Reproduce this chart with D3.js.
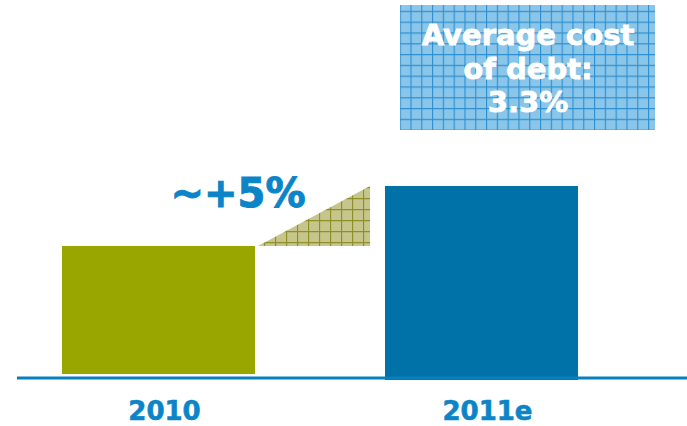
<!DOCTYPE html>
<html>
<head>
<meta charset="utf-8">
<script src="https://cdn.jsdelivr.net/npm/d3@7"></script>
<style>
  html, body { margin: 0; padding: 0; background: #fff; }
  svg { display: block; font-family: "DejaVu Sans", Verdana, sans-serif; font-weight: bold; }
</style>
</head>
<body>
<svg id="chart" width="687" height="426"></svg>
<script>
const categories = ['2010', '2011e']
const values = [100, 105]
const growthLabel = '~+5%'
const boxLines = ['Average cost', 'of debt:', '3.3%']

const svg = d3.select('#chart')
const defs = svg.append('defs')

// grid-hatched fills
function gridPattern (id, bg, line, size) {
  const p = defs.append('pattern')
    .attr('id', id)
    .attr('patternUnits', 'userSpaceOnUse')
    .attr('width', size)
    .attr('height', size)
  p.append('rect').attr('width', size).attr('height', size).attr('fill', bg)
  p.append('path')
    .attr('d', `M0,0.5H${size}M0.5,0V${size}`)
    .attr('stroke', line)
    .attr('stroke-width', 1.3)
}
gridPattern('olive-grid', '#c6c58c', '#8f8f2a', 11)
gridPattern('blue-grid', '#8ac6ea', '#2f90d0', 10.8)

const x = d3.scaleBand().domain(categories).range([62, 578]).paddingInner(0.4025)
const y = d3.scaleLinear().domain([89, 120.5]).range([378, 0])
const colors = { '2010': '#9aa600', '2011e': '#0072a7' }

// bars
svg.append('g').selectAll('rect')
  .data(categories)
  .join('rect')
  .attr('x', d => x(d))
  .attr('width', x.bandwidth())
  .attr('y', (d, i) => y(values[i]))
  .attr('height', (d, i) => y(89) - y(values[i]) + (i === 0 ? -4 : 2))
  .attr('fill', d => colors[d])

// baseline
svg.append('line')
  .attr('x1', 17).attr('x2', 687)
  .attr('y1', y(89)).attr('y2', y(89))
  .attr('stroke', '#0a7fbf')
  .attr('stroke-width', 3)

// growth wedge between bars
const x0 = x(categories[0]) + x.bandwidth() + 3
const x1 = x(categories[1]) - 15
svg.append('path')
  .attr('d', `M${x0},${y(values[0])}L${x1},${y(values[1])}L${x1},${y(values[0])}Z`)
  .attr('fill', 'url(#olive-grid)')

svg.append('text')
  .attr('x', 238)
  .attr('y', 207)
  .attr('text-anchor', 'middle')
  .attr('font-size', 40)
  .attr('fill', '#0b85c8')
  .attr('stroke', '#0b85c8')
  .attr('stroke-width', 1)
  .text(growthLabel)

// category labels
svg.append('g').selectAll('text')
  .data(categories)
  .join('text')
  .attr('x', d => x(d) + x.bandwidth() / 2 + 6)
  .attr('y', 420)
  .attr('text-anchor', 'middle')
  .attr('font-size', 26)
  .attr('fill', '#0b85c8')
  .attr('stroke', '#0b85c8')
  .attr('stroke-width', 0.6)
  .text(d => d)

// callout box
svg.append('rect')
  .attr('x', 400).attr('y', 5)
  .attr('width', 255).attr('height', 125)
  .attr('fill', 'url(#blue-grid)')

svg.append('g').selectAll('text')
  .data(boxLines)
  .join('text')
  .attr('x', 528)
  .attr('y', (d, i) => 45 + i * 33.5)
  .attr('text-anchor', 'middle')
  .attr('font-size', 29)
  .attr('fill', '#fff')
  .attr('stroke', '#fff')
  .attr('stroke-width', 0.8)
  .text(d => d)
</script>
</body>
</html>
